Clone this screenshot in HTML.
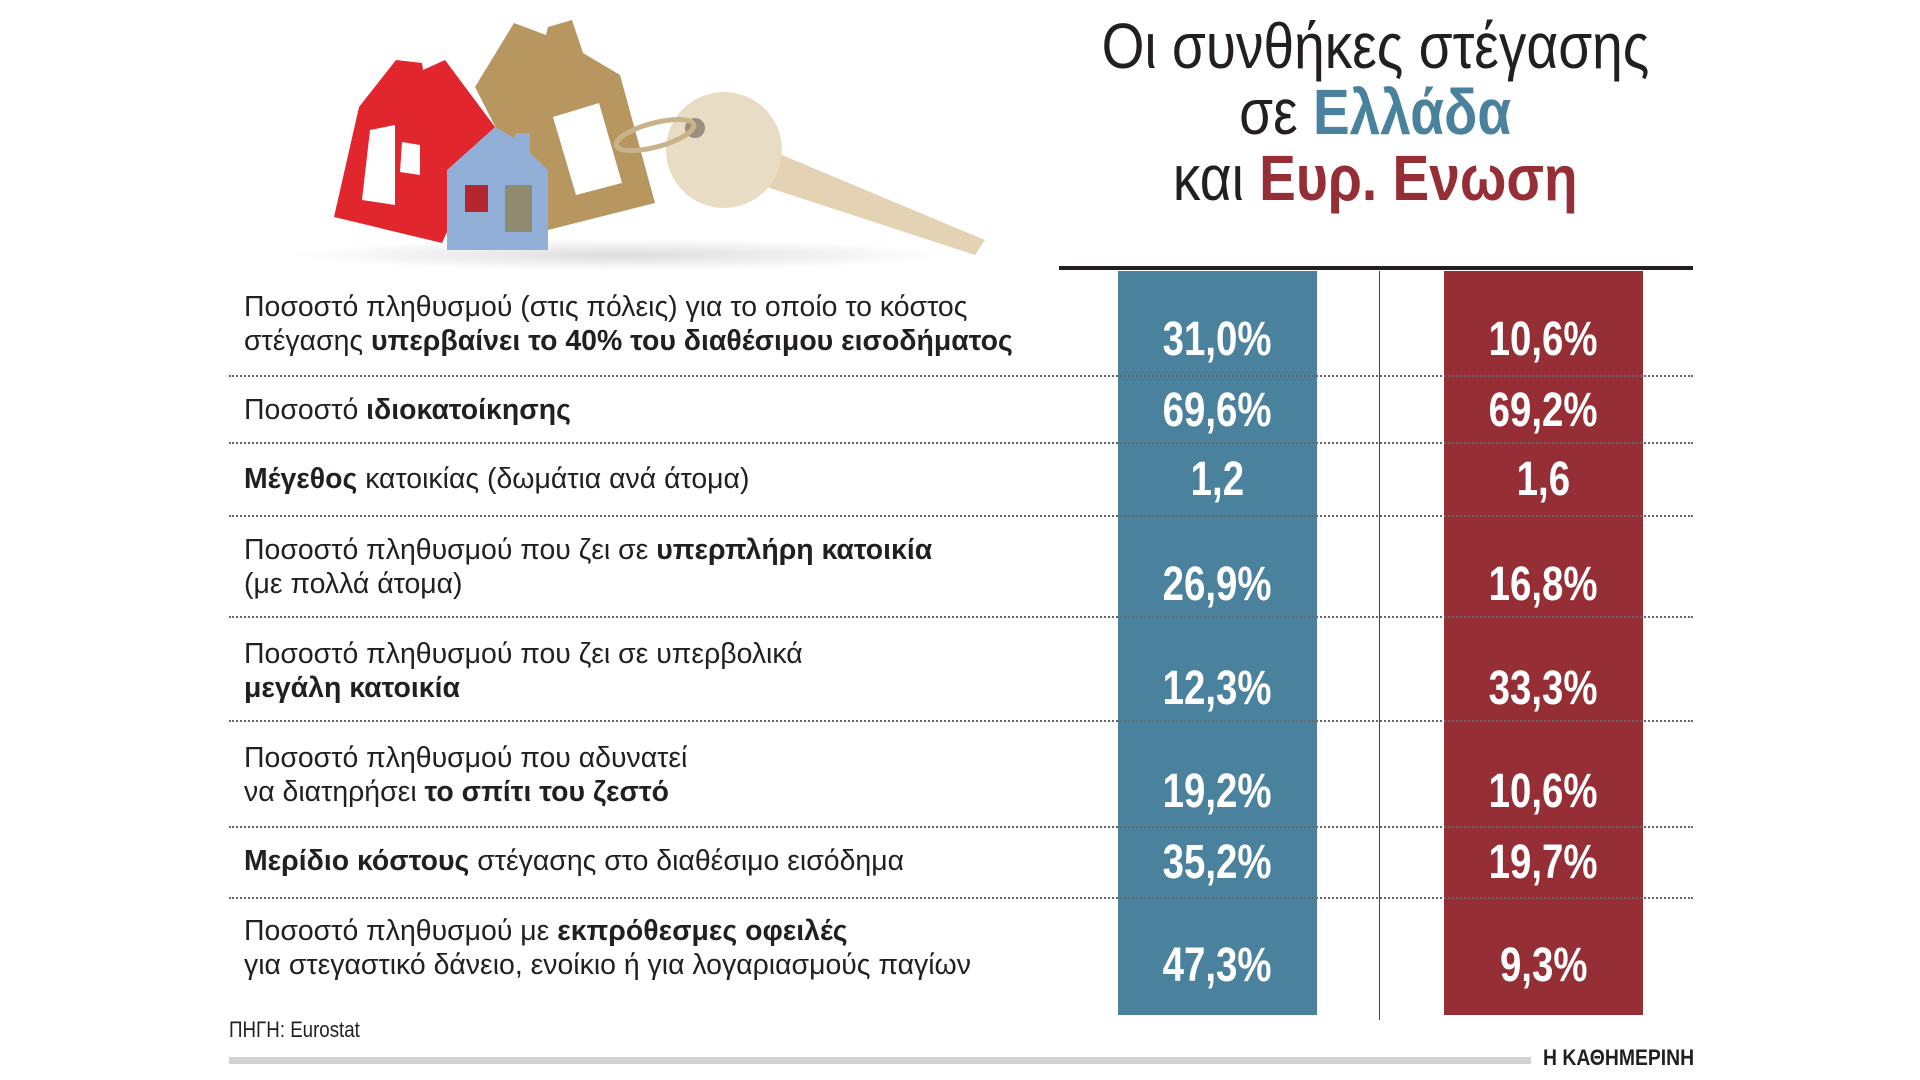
<!DOCTYPE html>
<html><head><meta charset="utf-8">
<style>
html,body{margin:0;padding:0;background:#fff;width:1920px;height:1080px;overflow:hidden;position:relative;font-family:"Liberation Sans","DejaVu Sans",sans-serif;color:#231f20}
.a{position:absolute;white-space:nowrap}
.t{font-size:29px;transform:scaleX(0.98);transform-origin:left center;line-height:34px}
.t b{font-weight:bold}
.dot{position:absolute;left:229px;width:1464px;height:0;border-top:2px dotted #666}
.col{position:absolute;top:271px;height:744px;width:199px}
.v{position:absolute;width:199px;text-align:center;color:#fff;font-weight:bold;font-size:48px;line-height:50px}
.v span{display:inline-block;transform:scaleX(0.8)}
.title{position:absolute;left:1000px;width:750px;text-align:center;font-size:64px;line-height:66px;white-space:nowrap}
.title span.i{display:inline-block;transform:scaleX(0.86)}
</style></head><body>

<svg class="a" style="left:280px;top:10px" width="720" height="270" viewBox="280 10 720 270">
 <defs>
  <radialGradient id="sh" cx="0.5" cy="0.5" r="0.5"><stop offset="0" stop-color="#ddd"/><stop offset="1" stop-color="#fff"/></radialGradient>
 </defs>
 <ellipse cx="620" cy="255" rx="330" ry="16" fill="url(#sh)"/>
 <polygon points="475,87 514,23 546,35 548,27 572,20 583,53 620,75 655,203 548,230" fill="#b8965f"/>
 <polygon points="553,117 599,103 622,183 576,195" fill="#fff"/>
 <polygon points="334,217 359,107 396,60 422,63 423,70 445,60 495,127 442,243" fill="#e2262d"/>
 <polygon points="370,130 395,125 395,205 362,200" fill="#fff"/>
 <polygon points="402,142 420,145 420,175 400,172" fill="#fff"/>
 <polygon points="447,170 495,127 514,138 516,133 530,133 530,153 548,170 548,250 447,250" fill="#92afd8"/>
 <rect x="465" y="185" width="23" height="27" fill="#b3262d"/>
 <rect x="505" y="185" width="27" height="47" fill="#8f8a70"/>
 <polygon points="751,160 770,150 985,240 975,255 745,180" fill="#e3d3b4"/>
 <circle cx="724" cy="150" r="58" fill="#e8dcc4"/>
 <circle cx="695" cy="128" r="10" fill="#9a8f7e"/>
 <ellipse cx="655" cy="135" rx="40" ry="12" fill="none" stroke="#c9b48a" stroke-width="5" transform="rotate(-15 655 135)"/>
</svg>

<div class="title" style="top:13px"><span class="i">Οι συνθήκες στέγασης</span></div>
<div class="title" style="top:79px"><span class="i">σε <b style="color:#4a829e">Ελλάδα</b></span></div>
<div class="title" style="top:145px"><span class="i">και <b style="color:#962e35">Ευρ. Ενωση</b></span></div>

<div class="a" style="left:1059px;top:266px;width:634px;height:4px;background:#231f20"></div>
<div class="col" style="left:1118px;background:#4a829e"></div>
<div class="col" style="left:1444px;background:#962e35"></div>
<div class="a" style="left:1379px;top:271px;width:1px;height:749px;background:#444"></div>

<div class="dot" style="top:375px"></div>
<div class="dot" style="top:442px"></div>
<div class="dot" style="top:515px"></div>
<div class="dot" style="top:616px"></div>
<div class="dot" style="top:720px"></div>
<div class="dot" style="top:826px"></div>
<div class="dot" style="top:897px"></div>

<div class="a t" style="left:244px;top:290px">Ποσοστό πληθυσμού (στις πόλεις) για το οποίο το κόστος<br>στέγασης <b>υπερβαίνει το 40% του διαθέσιμου εισοδήματος</b></div>
<div class="a t" style="left:244px;top:393px">Ποσοστό <b>ιδιοκατοίκησης</b></div>
<div class="a t" style="left:244px;top:462px"><b>Μέγεθος</b> κατοικίας (δωμάτια ανά άτομα)</div>
<div class="a t" style="left:244px;top:533px">Ποσοστό πληθυσμού που ζει σε <b>υπερπλήρη κατοικία</b><br>(με πολλά άτομα)</div>
<div class="a t" style="left:244px;top:637px">Ποσοστό πληθυσμού που ζει σε υπερβολικά<br><b>μεγάλη κατοικία</b></div>
<div class="a t" style="left:244px;top:741px">Ποσοστό πληθυσμού που αδυνατεί<br>να διατηρήσει <b>το σπίτι του ζεστό</b></div>
<div class="a t" style="left:244px;top:844px"><b>Μερίδιο κόστους</b> στέγασης στο διαθέσιμο εισόδημα</div>
<div class="a t" style="left:244px;top:914px">Ποσοστό πληθυσμού με <b>εκπρόθεσμες οφειλές</b><br>για στεγαστικό δάνειο, ενοίκιο ή για λογαριασμούς παγίων</div>

<div class="v" style="left:1118px;top:315px"><span>31,0%</span></div>
<div class="v" style="left:1118px;top:386px"><span>69,6%</span></div>
<div class="v" style="left:1118px;top:455px"><span>1,2</span></div>
<div class="v" style="left:1118px;top:560px"><span>26,9%</span></div>
<div class="v" style="left:1118px;top:664px"><span>12,3%</span></div>
<div class="v" style="left:1118px;top:767px"><span>19,2%</span></div>
<div class="v" style="left:1118px;top:838px"><span>35,2%</span></div>
<div class="v" style="left:1118px;top:941px"><span>47,3%</span></div>

<div class="v" style="left:1444px;top:315px"><span>10,6%</span></div>
<div class="v" style="left:1444px;top:386px"><span>69,2%</span></div>
<div class="v" style="left:1444px;top:455px"><span>1,6</span></div>
<div class="v" style="left:1444px;top:560px"><span>16,8%</span></div>
<div class="v" style="left:1444px;top:664px"><span>33,3%</span></div>
<div class="v" style="left:1444px;top:767px"><span>10,6%</span></div>
<div class="v" style="left:1444px;top:838px"><span>19,7%</span></div>
<div class="v" style="left:1444px;top:941px"><span>9,3%</span></div>

<div class="a" style="left:229px;top:1017px;font-size:22px;transform:scaleX(0.85);transform-origin:left center">ΠΗΓΗ: Eurostat</div>
<div class="a" style="left:229px;top:1057px;width:1302px;height:7px;background:#d1d2d4"></div>
<div class="a" style="left:1543px;top:1045px;font-size:22px;font-weight:bold;transform:scaleX(0.88);transform-origin:left center">Η ΚΑΘΗΜΕΡΙΝΗ</div>
</body></html>
